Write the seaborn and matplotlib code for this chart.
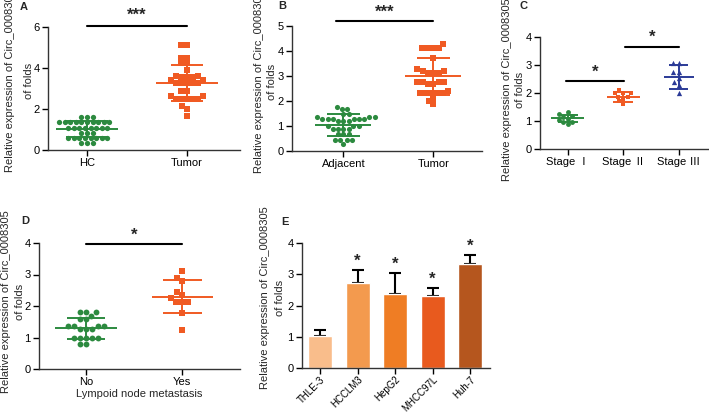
import numpy as np
import pandas as pd
import matplotlib
matplotlib.use("Agg")
import matplotlib.pyplot as plt
import seaborn as sns

# ---------------- data ----------------
a_cats = ["HC", "Tumor"]
a_hc = [1.62, 1.62, 1.62,
        1.35, 1.35, 1.35, 1.35, 1.35, 1.35, 1.35, 1.35, 1.35, 1.35,
        1.09, 1.09, 1.09, 1.09, 1.09, 1.09, 1.09, 1.09,
        0.85, 0.85, 0.85,
        0.60, 0.60, 0.60, 0.60, 0.60, 0.60, 0.60, 0.60,
        0.36, 0.36, 0.36]
a_tumor = [5.10, 5.10, 4.50, 4.50, 4.22, 4.22, 3.90, 3.62, 3.62, 3.55, 3.55, 3.55,
           3.40, 3.40, 3.25, 3.25, 3.25, 3.25, 3.25, 2.90, 2.90, 2.65, 2.65,
           2.47, 2.47, 2.47, 2.47, 2.47, 2.15, 2.00, 1.68]
a_mean = [1.02, 3.27]
a_sd = [0.40, 0.87]

b_cats = ["Adjacent", "Tumor"]
b_adj = [1.77, 1.68, 1.68, 1.48, 1.48, 1.37, 1.37, 1.37,
         1.28, 1.28, 1.28, 1.28, 1.28, 1.28, 1.20, 1.20, 1.20,
         1.00, 1.00, 1.00, 0.90, 0.90, 0.90, 0.90,
         0.68, 0.68, 0.68, 0.44, 0.44, 0.44, 0.44, 0.28]
b_tumor = [4.30, 4.13, 4.13, 4.13, 4.13, 3.73, 3.30, 3.22, 3.22, 3.13, 3.13, 3.13,
           2.77, 2.77, 2.77, 2.77, 2.68, 2.68, 2.40, 2.33, 2.33, 2.33, 2.33, 2.33,
           2.13, 2.00, 1.88]
b_mean = [1.04, 3.00]
b_sd = [0.43, 0.74]

c_cats = ["Stage \u2160", "Stage \u2161", "Stage \u2162"]
c_stage1 = [1.32, 1.25, 1.17, 1.15, 1.08, 1.05, 0.98, 0.95, 0.90]
c_stage2 = [2.10, 2.00, 2.00, 2.00, 1.87, 1.87, 1.80, 1.70, 1.60]
c_stage3 = [3.08, 3.08, 2.75, 2.75, 2.55, 2.40, 2.30, 2.00]
c_mean = [1.10, 1.85, 2.58]
c_sd = [0.12, 0.17, 0.42]

d_cats = ["No", "Yes"]
d_no = [1.80, 1.80, 1.80, 1.68, 1.58, 1.58, 1.35, 1.35, 1.35, 1.35,
        1.28, 1.28, 1.28, 1.00, 1.00, 1.00, 1.00, 1.00, 0.79, 0.79]
d_yes = [3.12, 2.90, 2.80, 2.46, 2.35, 2.24, 2.13, 2.13, 2.13, 1.78, 1.24]
d_mean = [1.29, 2.30]
d_sd = [0.33, 0.52]

e_cells = ["THLE-3", "HCCLM3", "HepG2", "MHCC97L", "Huh-7"]
e_mean = [1.03, 2.73, 2.38, 2.31, 3.33]
e_sd = [0.18, 0.40, 0.65, 0.24, 0.30]
e_sig = ["", "*", "*", "*", "*"]

ylab_lines = ["Relative expression of Circ_0008305", "of folds"]

# ---------------- style ----------------
GREEN = "#2c8a3f"
ORANGE = "#f05a23"
BLUE = "#2b3a97"
BAR_COLORS = ["#f9bd8b", "#f39a4e", "#ef7d24", "#e85a1e", "#b5561e"]

sns.set_theme(style="ticks")
plt.rcParams["font.family"] = ["Liberation Sans", "Noto Sans CJK SC", "DejaVu Sans"]
plt.rcParams["axes.edgecolor"] = "#333333"
plt.rcParams["axes.linewidth"] = 1.0

W, H = 709, 412
fig = plt.figure(figsize=(W / 100, H / 100), dpi=100)


def add_ax(l, r, t, b):
    return fig.add_axes([l / W, 1 - b / H, (r - l) / W, (b - t) / H])


def style(ax, ylim, yticks, xlim):
    ax.set_ylim(*ylim)
    ax.set_yticks(yticks)
    ax.set_xlim(*xlim)
    ax.set_xlabel("")
    ax.set_ylabel("")
    sns.despine(ax=ax)
    ax.tick_params(direction="out", length=4, width=1, labelsize=8,
                   pad=2, colors="black")
    for s in ("left", "bottom"):
        ax.spines[s].set_color("#333333")


def scatter_group(ax, cats, idx, vals, color, marker, size):
    sns.swarmplot(x=[cats[idx]] * len(vals), y=vals, order=cats, ax=ax,
                  color=color, marker=marker, size=size, linewidth=0,
                  zorder=2)


def mean_sd(ax, idx, m, sd, color, mw=0.3, cw=0.18, lw=1.4):
    ax.hlines(m, idx - mw, idx + mw, color=color, lw=lw, zorder=3)
    ax.vlines(idx, m - sd, m + sd, color=color, lw=lw, zorder=3)
    ax.hlines([m - sd, m + sd], idx - cw, idx + cw, color=color, lw=lw, zorder=3)


def sig(ax, x0, x1, y, ys, txt):
    ax.plot([x0, x1], [y, y], color="black", lw=1.5, clip_on=False, zorder=4)
    ax.text((x0 + x1) / 2, ys, txt, ha="center", va="center", fontsize=12,
            fontweight="bold", clip_on=False)


def ylabel(x1, x2, y):
    fig.text(x1 / W, 1 - y / H, ylab_lines[0], rotation=90, ha="center",
             va="center", fontsize=8)
    fig.text(x2 / W, 1 - y / H, ylab_lines[1], rotation=90, ha="center",
             va="center", fontsize=8)


def letter(x, y, s):
    fig.text(x / W, 1 - y / H, s, ha="center", va="center", fontsize=8,
             fontweight="bold")


# ---------------- Panel A ----------------
axA = add_ax(48, 240, 27, 150)
scatter_group(axA, a_cats, 0, a_hc, GREEN, "o", 3.8)
scatter_group(axA, a_cats, 1, a_tumor, ORANGE, "s", 3.9)
mean_sd(axA, 0, a_mean[0], a_sd[0], GREEN, 0.31, 0.21)
mean_sd(axA, 1, a_mean[1], a_sd[1], ORANGE, 0.31, 0.16)
style(axA, (0, 6), [0, 2, 4, 6], (-0.39, 1.53))
sig(axA, 0, 1, 6.05, 6.55, "***")
ylabel(10, 29, 81)
letter(24, 7, "A")

# ---------------- Panel B ----------------
axB = add_ax(292, 482, 26, 151)
scatter_group(axB, b_cats, 0, b_adj, GREEN, "o", 3.7)
scatter_group(axB, b_cats, 1, b_tumor, ORANGE, "s", 3.9)
mean_sd(axB, 0, b_mean[0], b_sd[0], GREEN, 0.31, 0.18)
mean_sd(axB, 1, b_mean[1], b_sd[1], ORANGE, 0.31, 0.18)
style(axB, (0, 5), [0, 1, 2, 3, 4, 5], (-0.57, 1.54))
sig(axB, -0.08, 1, 5.2, 5.55, "***")
ylabel(259, 272, 82)
letter(282, 6, "B")

# ---------------- Panel C ----------------
axC = add_ax(540, 712, 37, 149)
scatter_group(axC, c_cats, 0, c_stage1, GREEN, "o", 3.5)
scatter_group(axC, c_cats, 1, c_stage2, ORANGE, "s", 3.5)
scatter_group(axC, c_cats, 2, c_stage3, BLUE, "^", 3.8)
mean_sd(axC, 0, c_mean[0], c_sd[0], GREEN, 0.3, 0.18)
mean_sd(axC, 1, c_mean[1], c_sd[1], ORANGE, 0.3, 0.18)
mean_sd(axC, 2, c_mean[2], c_sd[2], BLUE, 0.27, 0.17)
style(axC, (0, 4), [0, 1, 2, 3, 4], (-0.5, 2.6))
sig(axC, -0.04, 1.02, 2.44, 2.75, "*")
sig(axC, 1.04, 2.0, 3.65, 3.98, "*")
ylabel(507, 520, 90)
letter(524, 6, "C")

# ---------------- Panel D ----------------
axD = add_ax(39, 240, 243, 369)
scatter_group(axD, d_cats, 0, d_no, GREEN, "o", 4.2)
scatter_group(axD, d_cats, 1, d_yes, ORANGE, "s", 4.2)
mean_sd(axD, 0, d_mean[0], d_sd[0], GREEN, 0.32, 0.2)
mean_sd(axD, 1, d_mean[1], d_sd[1], ORANGE, 0.32, 0.2)
style(axD, (0, 4), [0, 1, 2, 3, 4], (-0.49, 1.6))
axD.set_xlabel("Lympoid node metastasis", fontsize=8, labelpad=1)
sig(axD, 0, 1, 3.97, 4.25, "*")
ylabel(6, 20, 302)
letter(25, 221, "D")

# ---------------- Panel E ----------------
axE = add_ax(302, 490, 243, 368)
dfE = pd.DataFrame({"cell": e_cells, "value": e_mean})
sns.barplot(data=dfE, x="cell", y="value", hue="cell", palette=BAR_COLORS,
            legend=False, ax=axE, width=0.64, saturation=1, errorbar=None,
            zorder=2)
axE.errorbar(range(len(e_cells)), e_mean, yerr=[np.zeros(len(e_sd)), e_sd],
             fmt="none", ecolor="black", elinewidth=1.5, capsize=4.5,
             capthick=1.5, zorder=1)
for i, (m, s, t) in enumerate(zip(e_mean, e_sd, e_sig)):
    if t:
        axE.text(i, m + s + 0.28, t, ha="center", va="center", fontsize=12,
                 fontweight="bold", clip_on=False)
style(axE, (0, 4), [0, 1, 2, 3, 4], (-0.48, 4.53))
axE.tick_params(axis="x", pad=0.5)
plt.setp(axE.get_xticklabels(), rotation=45, ha="right",
         rotation_mode="anchor", fontsize=7.0)
ylabel(265, 280, 298)
letter(285, 222, "E")

fig.savefig("out.png", dpi=100)
